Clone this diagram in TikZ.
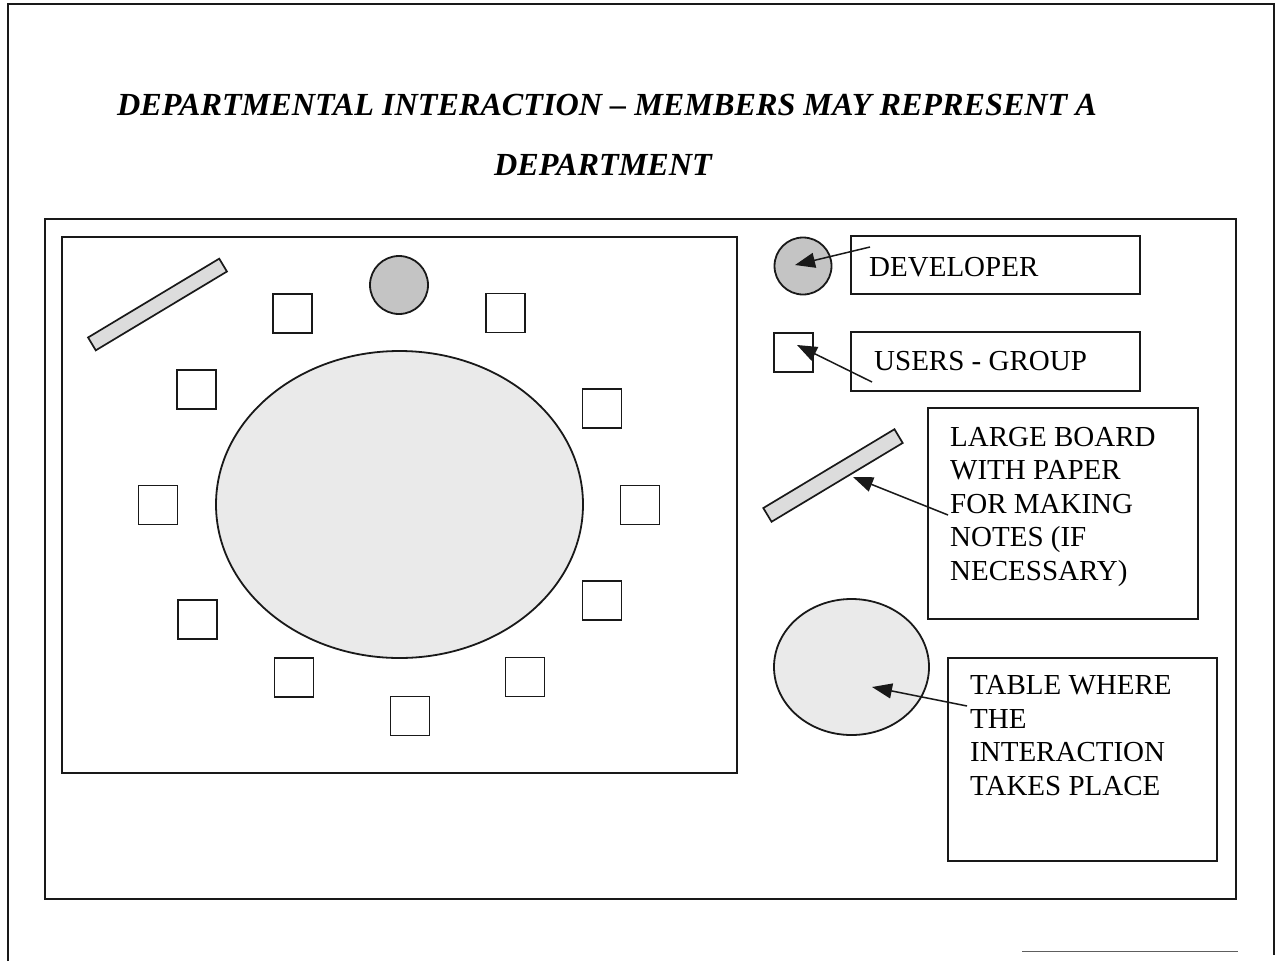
\documentclass[tikz,border=0pt]{standalone}
\usepackage{fontspec}
\setmainfont{Liberation Serif}
\usetikzlibrary{arrows.meta,shapes.geometric}
\definecolor{devgray}{RGB}{196,196,196}
\definecolor{boardgray}{RGB}{220,220,220}
\definecolor{tablegray}{RGB}{234,234,234}
\definecolor{inkgray}{RGB}{25,25,25}
\begin{document}
\begin{tikzpicture}[x=1pt,y=-1pt,
  frame/.style={draw=inkgray, line width=2pt},
  seat/.style={draw=inkgray, line width=1.9pt, minimum size=39pt, inner sep=0pt},
  devmark/.style={circle, draw=inkgray, line width=1.8pt, fill=devgray, minimum size=58pt, inner sep=0pt},
  boardmark/.style={draw=inkgray, line width=1.7pt, fill=boardgray, minimum width=153pt, minimum height=15pt, inner sep=0pt, rotate=31},
  tablemark/.style={ellipse, draw=inkgray, line width=1.8pt, fill=tablegray, inner sep=0pt},
  labelbox/.style={draw=inkgray, line width=1.7pt, inner sep=0pt},
  labeltext/.style={anchor=base west, inner sep=0pt, align=left, font=\fontsize{29}{33.6}\selectfont},
  titletext/.style={anchor=base, inner sep=0pt, font=\bfseries\itshape\fontsize{32.2}{40}\selectfont},
  pointer/.style={draw=inkgray, line width=1.5pt, -{Triangle[length=20pt,width=15pt]}},
]
\useasboundingbox[fill=white] (0,0) rectangle (1281,961);

% page border
\draw[frame] (7.5,961) -- (7.5,4) -- (1274,4) -- (1274,955);
\draw[draw=inkgray!70, line width=1pt] (1022,951) -- (1238,951);

% title
\node[titletext] (title1) at (607,115) {DEPARTMENTAL INTERACTION – MEMBERS MAY REPRESENT A};
\node[titletext] (title2) at (603,175) {DEPARTMENT};

% outer panel and room
\draw[frame] (45,219) rectangle (1236,899);
\draw[frame] (62,237) rectangle (737,773);

% room contents
\node[tablemark, minimum width=367pt, minimum height=307pt] (bigtable) at (399.5,504.5) {};
\node[devmark] (dev) at (399,285) {};
\node[boardmark] (board) at (157.5,304.5) {};
\node[seat] (s1)  at (292.5,313.5) {};
\node[seat] (s2)  at (505.5,313) {};
\node[seat] (s3)  at (196.5,389.5) {};
\node[seat] (s4)  at (602,408.5) {};
\node[seat] (s5)  at (158,505) {};
\node[seat] (s6)  at (640,505) {};
\node[seat] (s7)  at (197.5,619.5) {};
\node[seat] (s8)  at (602,600.5) {};
\node[seat] (s9)  at (294,677.5) {};
\node[seat] (s10) at (525,677) {};
\node[seat] (s11) at (410,716) {};

% legend symbols
\node[devmark, minimum size=57pt] (legdev) at (803,266) {};
\node[seat] (leguser) at (793.5,352.5) {};
\node[boardmark, minimum height=16pt] (legboard) at (833,475.5) {};
\node[tablemark, minimum width=155pt, minimum height=136pt] (legtable) at (851.5,667) {};

% legend boxes
\node[labelbox, minimum width=289pt, minimum height=58pt] (devbox) at (995.5,265) {};
\node[labelbox, minimum width=289pt, minimum height=59pt] (userbox) at (995.5,361.5) {};
\node[labelbox, minimum width=270pt, minimum height=211pt] (boardbox) at (1063,513.5) {};
\node[labelbox, minimum width=269pt, minimum height=203pt] (tablebox) at (1082.5,759.5) {};

% legend texts (base anchor of a multi-line node sits on its last line)
\node[labeltext] (devtext) at (869,276) {DEVELOPER};
\node[labeltext] (usertext) at (874,370) {USERS - GROUP};
\node[labeltext] (boardtext) at (950,580.5) {LARGE BOARD\\WITH PAPER\\FOR MAKING\\NOTES (IF\\NECESSARY)};
\node[labeltext] (tabletext) at (970,795.5) {TABLE WHERE\\THE\\INTERACTION\\TAKES PLACE};

% pointers from labels to symbols
\coordinate (devtail) at (870,247);
\coordinate (devtip) at (795,265);
\coordinate (usertail) at (872,382);
\coordinate (usertip) at (797,345);
\coordinate (boardtail) at (948,515);
\coordinate (boardtip) at (853,477);
\coordinate (tabletail) at (967,706);
\coordinate (tabletip) at (872,687);
\draw[pointer] (devtail) -- (devtip);
\draw[pointer] (usertail) -- (usertip);
\draw[pointer] (boardtail) -- (boardtip);
\draw[pointer] (tabletail) -- (tabletip);
\end{tikzpicture}
\end{document}
